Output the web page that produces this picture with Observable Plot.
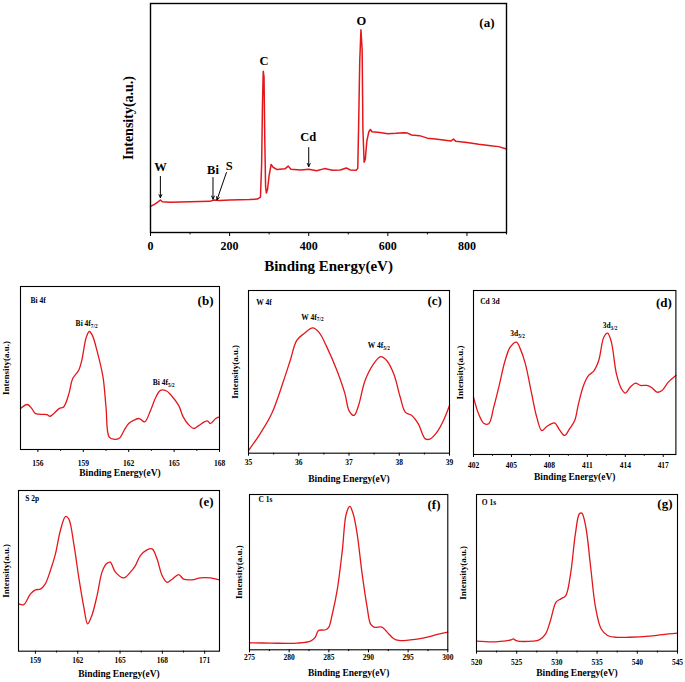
<!DOCTYPE html>
<html><head><meta charset="utf-8">
<script src="https://cdn.jsdelivr.net/npm/d3@7"></script>
<script src="https://cdn.jsdelivr.net/npm/@observablehq/plot@0.6"></script>
<style>
body{margin:0;background:#fff;}
#wrap{position:relative;width:685px;height:682px;overflow:hidden;background:#fff;}
#wrap svg{position:absolute;overflow:visible;}
</style></head><body><div id="wrap"></div>
<script>
// ---------- data ----------
const surveyE = [0,10,20,25,30,50,100,150,160,175,200,250,270,278,281,283,285,287,289,291,293,296,300,305,310,320,340,348,355,380,400,420,440,460,480,495,505,520,524,526,529,532,535,537,540,543,547,552,556,560,580,600,620,640,650,660,680,700,720,740,760,766,772,800,830,860,880,900];
const surveyI = [11.4,12.3,13.5,14.2,13.4,13.2,13.4,13.6,14.2,14.0,14.2,14.4,14.6,15.5,30,55,70.4,68,40,20,17.2,19,25,29.7,28.5,27.5,27.8,29,27.6,27.3,27.6,27.0,27.9,27.2,27.3,28.2,27.3,27.2,28,45,75,88.5,80,45,30.7,32,40,44,45,44,43.7,43.1,43.3,43.6,43.4,42.6,42.3,41.2,40.8,40.4,40.0,40.8,39.8,39.3,38.5,37.9,37.5,36.5];
const surveyMajor = [0,200,400,600,800];
const surveyMinor = [100,300,500,700,900];
const surveyPeakNames = ["W","Bi","S","Cd","C","O"];
const surveyPeakX = [25,158,199,399,287,533];
const surveyPeakY = [28.8,27.4,29,41.6,75,92.3];
const arrowX1 = [25,158,192,400];
const arrowY1 = [24.5,24,26.2,37.1];
const arrowX2 = [25,158,168,400];
const arrowY2 = [15.2,14.6,14.2,28.8];

const bi4fE = [154.85,155.3,155.6,155.85,156.6,156.8,157.4,157.7,158.05,158.3,158.7,158.9,159.2,159.4,159.6,159.9,160.3,160.5,160.7,161.0,161.4,161.7,162.0,162.35,162.7,163.05,163.45,163.8,164.1,164.5,164.8,165.3,165.6,165.95,166.3,166.6,167.0,167.2,167.4,167.75,168];
const bi4fI = [25.1,27.6,25.1,22,21.4,20.4,25.1,26.1,34.3,43.5,48.6,54.7,69,72.4,70,60.8,44.5,26.1,7.8,6.3,7.1,11.8,15.9,18,19,16.9,24.1,32.2,36.3,35.9,33.3,27.1,20,15.3,12.9,14.5,16.9,17.6,15.9,19,20];
const bi4fMajor = [156,159,162,165,168];
const bi4fMinor = [157.5,160.5,163.5,166.5];
const bi4fPeakMain = ["Bi 4f","Bi 4f"];
const bi4fPeakSub = ["7/2","5/2"];
const bi4fPeakX = [159.3,164.4];
const bi4fPeakY = [77,41];

const w4fE = [35,35.23,35.46,35.7,35.83,35.96,36.1,36.28,36.4,36.56,36.76,36.92,37.0,37.1,37.19,37.32,37.49,37.63,37.75,37.89,38.02,38.12,38.25,38.38,38.52,38.62,38.75,38.88,39];
const w4fI = [1.6,11.9,24.2,44.7,57,69.3,73.4,77,74.4,65.2,50.8,36.5,26.2,23.2,29.3,44.7,54.9,59.4,57,48.8,34.4,25.2,23.2,18,8.8,8.8,12.9,20.1,29.3];
const w4fMajor = [35,36,37,38,39];
const w4fMinor = [35.5,36.5,37.5,38.5];
const w4fPeakMain = ["W 4f","W 4f"];
const w4fPeakSub = ["7/2","5/2"];
const w4fPeakX = [36.3,37.62];
const w4fPeakY = [83.6,66.2];

const cd3dE = [402,402.4,402.8,403.2,403.6,404.0,404.5,404.9,405.4,405.7,406.1,406.6,407.0,407.4,407.8,408.4,408.8,409.2,409.6,410.0,410.3,410.7,411.1,411.5,411.9,412.3,412.6,412.9,413.3,413.7,414.0,414.4,414.8,415.2,415.7,416.1,416.5,416.9,417.4,418];
const cd3dI = [35,24.8,19.1,18.7,28.9,41.1,57.3,65.4,68.5,64.4,55.3,37,22.8,14.6,17.1,19.3,15,11.6,15.7,20.7,30.9,42.1,48.2,50.8,57.3,71.5,74,68.5,49.2,40,37.4,41.1,43.5,42.1,42.1,40.7,38,39,44.1,48.2];
const cd3dMajor = [402,405,408,411,414,417];
const cd3dMinor = [403.5,406.5,409.5,412.5,415.5];
const cd3dPeakMain = ["3d","3d"];
const cd3dPeakSub = ["5/2","3/2"];
const cd3dPeakX = [405.3,412.6];
const cd3dPeakY = [73.6,78.7];

const s2pE = [157.82,158.17,158.65,159.0,159.35,159.7,160.06,160.42,160.77,161.13,161.36,161.72,162.07,162.43,162.7,163.0,163.37,163.72,164.03,164.3,164.67,165.26,165.73,166.09,166.44,166.91,167.27,167.62,167.98,168.33,168.69,169.16,169.51,170.1,170.7,171.4,172.05];
const s2pI = [29.5,29,35.7,38.2,38.6,41.9,50.2,60.6,75.1,83.8,82.4,66.8,46.1,27.4,17,22.2,34.6,49.2,54.4,55.4,49.2,45.6,49.2,53.3,59.5,63.1,63.7,57.5,47.1,42.9,44.8,47.7,44.8,44.4,45.6,45.6,44.4];
const s2pMajor = [159,162,165,168,171];
const s2pMinor = [160.5,163.5,166.5,169.5];

const c1sE = [275,277.6,281,282.7,283.3,283.7,284.6,285,285.4,286.05,286.7,287.2,287.65,288.07,288.57,289.2,289.83,290.25,290.7,291.7,292.35,293.2,293.8,295.3,297,298.7,300];
const c1sI = [4.5,4.3,4.3,5.6,8.2,12.4,12.9,14.6,22.1,38.2,63.9,87.6,92.3,87.6,74.7,48.9,27.5,16.7,14.6,14.6,11.4,7.1,6,6.4,7.7,9.9,11.4];
const c1sMajor = [275,280,285,290,295,300];
const c1sMinor = [277.5,282.5,287.5,292.5,297.5];

const o1sE = [520,522.4,524.3,524.6,524.9,527,527.8,528.6,529.2,529.9,530.5,531.1,531.7,532.3,532.8,533.1,533.6,534.2,534.8,535.5,536.3,537.3,539,541.5,543.1,545];
const o1sI = [6.4,6,7.2,7.9,6.8,6.4,7.2,11.1,19.6,31.3,33.4,35.5,49.4,74.9,87.7,88.1,79.1,53.6,28.1,14.3,10,8.9,8.9,9.6,10.6,11.5];
const o1sMajor = [520,525,530,535,540,545];
const o1sMinor = [522.5,527.5,532.5,537.5,542.5];

const xLabel = "Binding Energy(eV)";
const yLabel = "Intensity(a.u.)";

// ---------- drawing ----------
const RED = "#e3171b";
const FONT = "'Liberation Serif', 'DejaVu Serif', serif";
const wrap = document.getElementById("wrap");

function panel(c) {
  const padL = c.padL ?? 26, padR = c.padR ?? 12, padT = c.padT ?? 8, padB = c.padB ?? 36;
  const w = c.R - c.L, h = c.B - c.T;
  const data = c.xs.map((x, i) => ({x, y: c.ys[i]}));
  const marks = [
    Plot.axisX({ticks: c.major, tickSize: c.tickSize, tickPadding: c.tickPad, label: null, fontSize: c.tickFs, tickFormat: d => String(d), strokeWidth: 1}),
    Plot.axisX({ticks: c.minor, tickSize: c.tickSize * 0.6, label: null, tickFormat: () => "", strokeWidth: 1}),
    Plot.line(data, {x: "x", y: "y", stroke: RED, strokeWidth: c.sw, curve: c.curve}),
    Plot.frame({stroke: "#000", strokeWidth: c.fw}),
    Plot.text([xLabel], {frameAnchor: "bottom", dy: c.xlabDy, fontSize: c.xlabFs, text: d => d, lineAnchor: "middle"}),
    Plot.text([yLabel], {frameAnchor: "left", dx: c.ylabDx, rotate: -90, fontSize: c.ylabFs, text: d => d, textAnchor: "middle", lineAnchor: "middle"}),
    Plot.text([c.tag], {frameAnchor: "top-right", dx: c.tagDx, dy: c.tagDy, fontSize: c.tagFs, text: d => d, textAnchor: "end", lineAnchor: "middle"})
  ];
  if (c.title) marks.push(Plot.text([c.title], {frameAnchor: "top-left", dx: c.titleDx, dy: c.titleDy, fontSize: c.titleFs, text: d => d, textAnchor: "start", lineAnchor: "middle"}));
  if (c.peakMain) {
    const pk = c.peakMain.map((m, i) => ({m, s: c.peakSub[i], x: c.peakX[i], y: c.peakY[i]}));
    marks.push(Plot.text(pk, {x: "x", y: "y", text: "m", textAnchor: "end", dx: 3, fontSize: c.peakFs}));
    marks.push(Plot.text(pk, {x: "x", y: "y", text: "s", textAnchor: "start", dx: 3, dy: 2.5, fontSize: c.peakFs * 0.7}));
  }
  if (c.extra) marks.push(...c.extra);
  const plot = Plot.plot({
    width: w + padL + padR, height: h + padT + padB,
    marginLeft: padL, marginRight: padR, marginTop: padT, marginBottom: padB,
    x: {domain: c.domain}, y: {domain: [0, 100], axis: null},
    style: {fontFamily: FONT, fontWeight: "bold", fontSize: c.tickFs + "px", background: "transparent", color: "#000", overflow: "visible"},
    marks
  });
  plot.style.left = (c.L - padL) + "px";
  plot.style.top = (c.T - padT) + "px";
  wrap.append(plot);
}

const small = {tickSize: 3, tickFs: 7.5, xlabFs: 9.5, ylabFs: 9, tagFs: 13, titleFs: 7.5, peakFs: 7.5, sw: 1.3, fw: 1.1, curve: "catmull-rom"};

// (a) survey
const survey = surveyPeakNames.map((n, i) => ({n, x: surveyPeakX[i], y: surveyPeakY[i]}));
const arrows = arrowX1.map((x1, i) => ({x1, y1: arrowY1[i], x2: arrowX2[i], y2: arrowY2[i]}));
panel({
  L: 150, T: 3, R: 506, B: 232, domain: [0, 900], xs: surveyE, ys: surveyI,
  major: surveyMajor, minor: surveyMinor, tickSize: 4, tickPad: 4.5, tickFs: 12,
  sw: 1.5, fw: 1.4, curve: "linear",
  xlabDy: 34, xlabFs: 15, ylabDx: -22, ylabFs: 14,
  tag: "(a)", tagDx: -12, tagDy: 19, tagFs: 13,
  padL: 50, padR: 14, padT: 3, padB: 48,
  extra: [
    Plot.text(survey, {x: "x", y: "y", text: "n", fontSize: 12.5}),
    Plot.arrow(arrows, {x1: "x1", y1: "y1", x2: "x2", y2: "y2", stroke: "#000", strokeWidth: 1, headLength: 5, headAngle: 50})
  ]
});

panel({...small, L: 20, T: 286, R: 219, B: 449, domain: [154.85, 168], xs: bi4fE, ys: bi4fI,
  major: bi4fMajor, minor: bi4fMinor, tickPad: 7.8, xlabDy: 23.4, ylabDx: -14,
  tag: "(b)", tagDx: -6, tagDy: 14.7, title: "Bi 4f", titleDx: 10, titleDy: 14,
  peakMain: bi4fPeakMain, peakSub: bi4fPeakSub, peakX: bi4fPeakX, peakY: bi4fPeakY, padL: 20});

panel({...small, L: 248.3, T: 290, R: 449.3, B: 452.7, domain: [35, 39], xs: w4fE, ys: w4fI,
  major: w4fMajor, minor: w4fMinor, tickPad: 3.4, xlabDy: 25.3, ylabDx: -13.3,
  tag: "(c)", tagDx: -7.6, tagDy: 10.7, title: "W 4f", titleDx: 7.7, titleDy: 11.7,
  peakMain: w4fPeakMain, peakSub: w4fPeakSub, peakX: w4fPeakX, peakY: w4fPeakY});

panel({...small, L: 473.3, T: 290, R: 675.7, B: 454, domain: [402, 418], xs: cd3dE, ys: cd3dI,
  major: cd3dMajor, minor: cd3dMinor, tickPad: 5.4, xlabDy: 22.7, ylabDx: -13.3,
  tag: "(d)", tagDx: -4, tagDy: 12.7, title: "Cd 3d", titleDx: 6.7, titleDy: 10.7,
  peakMain: cd3dPeakMain, peakSub: cd3dPeakSub, peakX: cd3dPeakX, peakY: cd3dPeakY, padR: 9});

panel({...small, L: 18.3, T: 490, R: 219.3, B: 650.7, domain: [157.8, 172.05], xs: s2pE, ys: s2pI,
  major: s2pMajor, minor: s2pMinor, tickPad: 3.7, xlabDy: 22.3, ylabDx: -12.3,
  tag: "(e)", tagDx: -6, tagDy: 11.7, title: "S 2p", titleDx: 6.7, titleDy: 8, padL: 18});

panel({...small, L: 249, T: 494, R: 447.3, B: 649.3, domain: [275, 300], xs: c1sE, ys: c1sI,
  major: c1sMajor, minor: c1sMinor, tickPad: 1.8, xlabDy: 23.4, ylabDx: -10.7,
  tag: "(f)", tagDx: -7.3, tagDy: 10, title: "C 1s", titleDx: 9, titleDy: 5});

panel({...small, L: 475.7, T: 494, R: 676.7, B: 650.7, domain: [520, 545], xs: o1sE, ys: o1sI,
  major: o1sMajor, minor: o1sMinor, tickPad: 5.4, xlabDy: 22, ylabDx: -13.4,
  tag: "(g)", tagDx: -5, tagDy: 9.3, title: "O 1s", titleDx: 5.3, titleDy: 7.7, padR: 8});
</script>
</body></html>
